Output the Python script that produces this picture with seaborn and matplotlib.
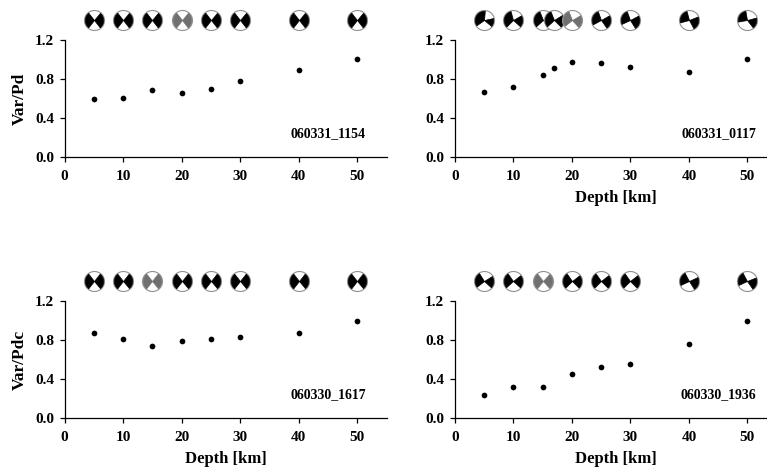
# Var/Pd against source depth for four events, with mechanism balls above each panel
import numpy as np
import pandas as pd
import seaborn as sns
import matplotlib
matplotlib.use('Agg')
import matplotlib.pyplot as plt
from matplotlib.path import Path
from matplotlib.transforms import blended_transform_factory

# data
depths_a = [5, 10, 15, 20, 25, 30, 40, 50]
depths_b = [5, 10, 15, 17, 20, 25, 30, 40, 50]

var_1154 = [0.59, 0.60, 0.69, 0.66, 0.70, 0.78, 0.89, 1.00]
var_0117 = [0.67, 0.72, 0.84, 0.91, 0.97, 0.96, 0.92, 0.87, 1.00]
var_1617 = [0.87, 0.81, 0.74, 0.79, 0.81, 0.83, 0.87, 1.00]
var_1936 = [0.24, 0.32, 0.32, 0.45, 0.52, 0.55, 0.76, 1.00]

event_names = ['060331_1154', '060331_0117', '060330_1617', '060330_1936']
y_labels = ['Var/Pd', None, 'Var/Pdc', None]
x_labels = [None, 'Depth [km]', 'Depth [km]', 'Depth [km]']
best_depths = [20, 20, 15, 15]

x_ticks = [0, 10, 20, 30, 40, 50]
y_ticks = [0.0, 0.4, 0.8, 1.2]

# black quadrants of the balls: (start, end) angles in degrees, left and right wedge
balls_1154 = [((128, 232), (-52, 50))] * 8
balls_0117 = [((85, 215), (-40, 12)), ((105, 225), (-42, 30)), ((112, 222), (-45, 32)),
              ((112, 222), (-45, 32)), ((112, 218), (-48, 30)), ((110, 208), (-55, 30)),
              ((110, 205), (-58, 28)), ((105, 195), (-62, 22)), ((100, 190), (-52, 15))]
balls_1617 = [((128, 232), (-50, 52))] * 8
balls_1936 = [((122, 218), (-42, 32)), ((125, 222), (-42, 38)), ((128, 230), (-48, 48)),
              ((125, 225), (-45, 38)), ((125, 225), (-45, 38)), ((125, 225), (-45, 38)),
              ((118, 205), (-58, 25)), ((118, 205), (-55, 22))]


def wedge_marker(start, end):
    # filled sector on the unit circle, used as a scatter marker
    angles = np.radians(np.linspace(start, end, 30))
    verts = [(0, 0)] + list(zip(np.cos(angles), np.sin(angles))) + [(0, 0)]
    return Path(verts, closed=True)


def draw_balls(ax, depths, balls, best):
    # x follows the depth axis, y sits above the axes
    trans = blended_transform_factory(ax.transData, ax.transAxes)
    for i, (depth, ball) in enumerate(zip(depths, balls)):
        color = '#707070' if depth == best else 'black'
        ax.scatter([depth], [1.171], s=20**2 * 0.5184, marker='o', facecolor='white',
                   edgecolor='#909090', linewidth=0.8, transform=trans, clip_on=False,
                   zorder=5 + i)
        for start, end in ball:
            ax.scatter([depth], [1.171], s=18.5**2 * 0.5184, marker=wedge_marker(start, end),
                       color=color, linewidth=0.5, transform=trans, clip_on=False,
                       zorder=5 + i)


sns.set_theme(style='ticks')
plt.rcParams['font.family'] = ['Liberation Serif', 'DejaVu Serif']
plt.rcParams['font.weight'] = 'bold'
plt.rcParams['axes.labelweight'] = 'bold'

fig = plt.figure(figsize=(7.67, 4.69), dpi=100)

series = [(depths_a, var_1154, balls_1154), (depths_b, var_0117, balls_0117),
          (depths_a, var_1617, balls_1617), (depths_a, var_1936, balls_1936)]
# pixel origin of each panel
origins = [(64.5, 157), (454.7, 157), (64.5, 418), (454.7, 418)]

for i, (depths, values, balls) in enumerate(series):
    x0, y0 = origins[i]
    ax = fig.add_axes([x0 / 767, 1 - y0 / 469, 322 / 767, 117 / 469])
    df = pd.DataFrame({'depth': depths, 'var': values})
    sns.scatterplot(data=df, x='depth', y='var', ax=ax, color='black', s=17, linewidth=0,
                    clip_on=False, zorder=4)
    ax.set_xlim(0, 55)
    ax.set_ylim(0, 1.2)
    ax.set_xticks(x_ticks)
    ax.set_yticks(y_ticks)
    ax.set_yticklabels([f'{t:.1f}' for t in y_ticks])
    ax.tick_params(axis='x', labelsize=11, length=3.5, width=0.9, pad=6, colors='black')
    ax.tick_params(axis='y', labelsize=11, length=3.5, width=0.9, pad=4, colors='black')
    for side in ['left', 'bottom']:
        ax.spines[side].set_linewidth(0.9)
        ax.spines[side].set_color('black')
    sns.despine(ax=ax)
    ax.set_xlabel(x_labels[i] or '', fontsize=12, labelpad=5, color='black')
    ax.set_ylabel(y_labels[i] or '', fontsize=12.5, labelpad=5.5, color='black')
    ax.text(0.936, 0.197, event_names[i], transform=ax.transAxes, ha='right', va='center',
            fontsize=10, fontweight='bold', color='black')
    draw_balls(ax, depths, balls, best_depths[i])

fig.savefig('out.png', dpi=100)
